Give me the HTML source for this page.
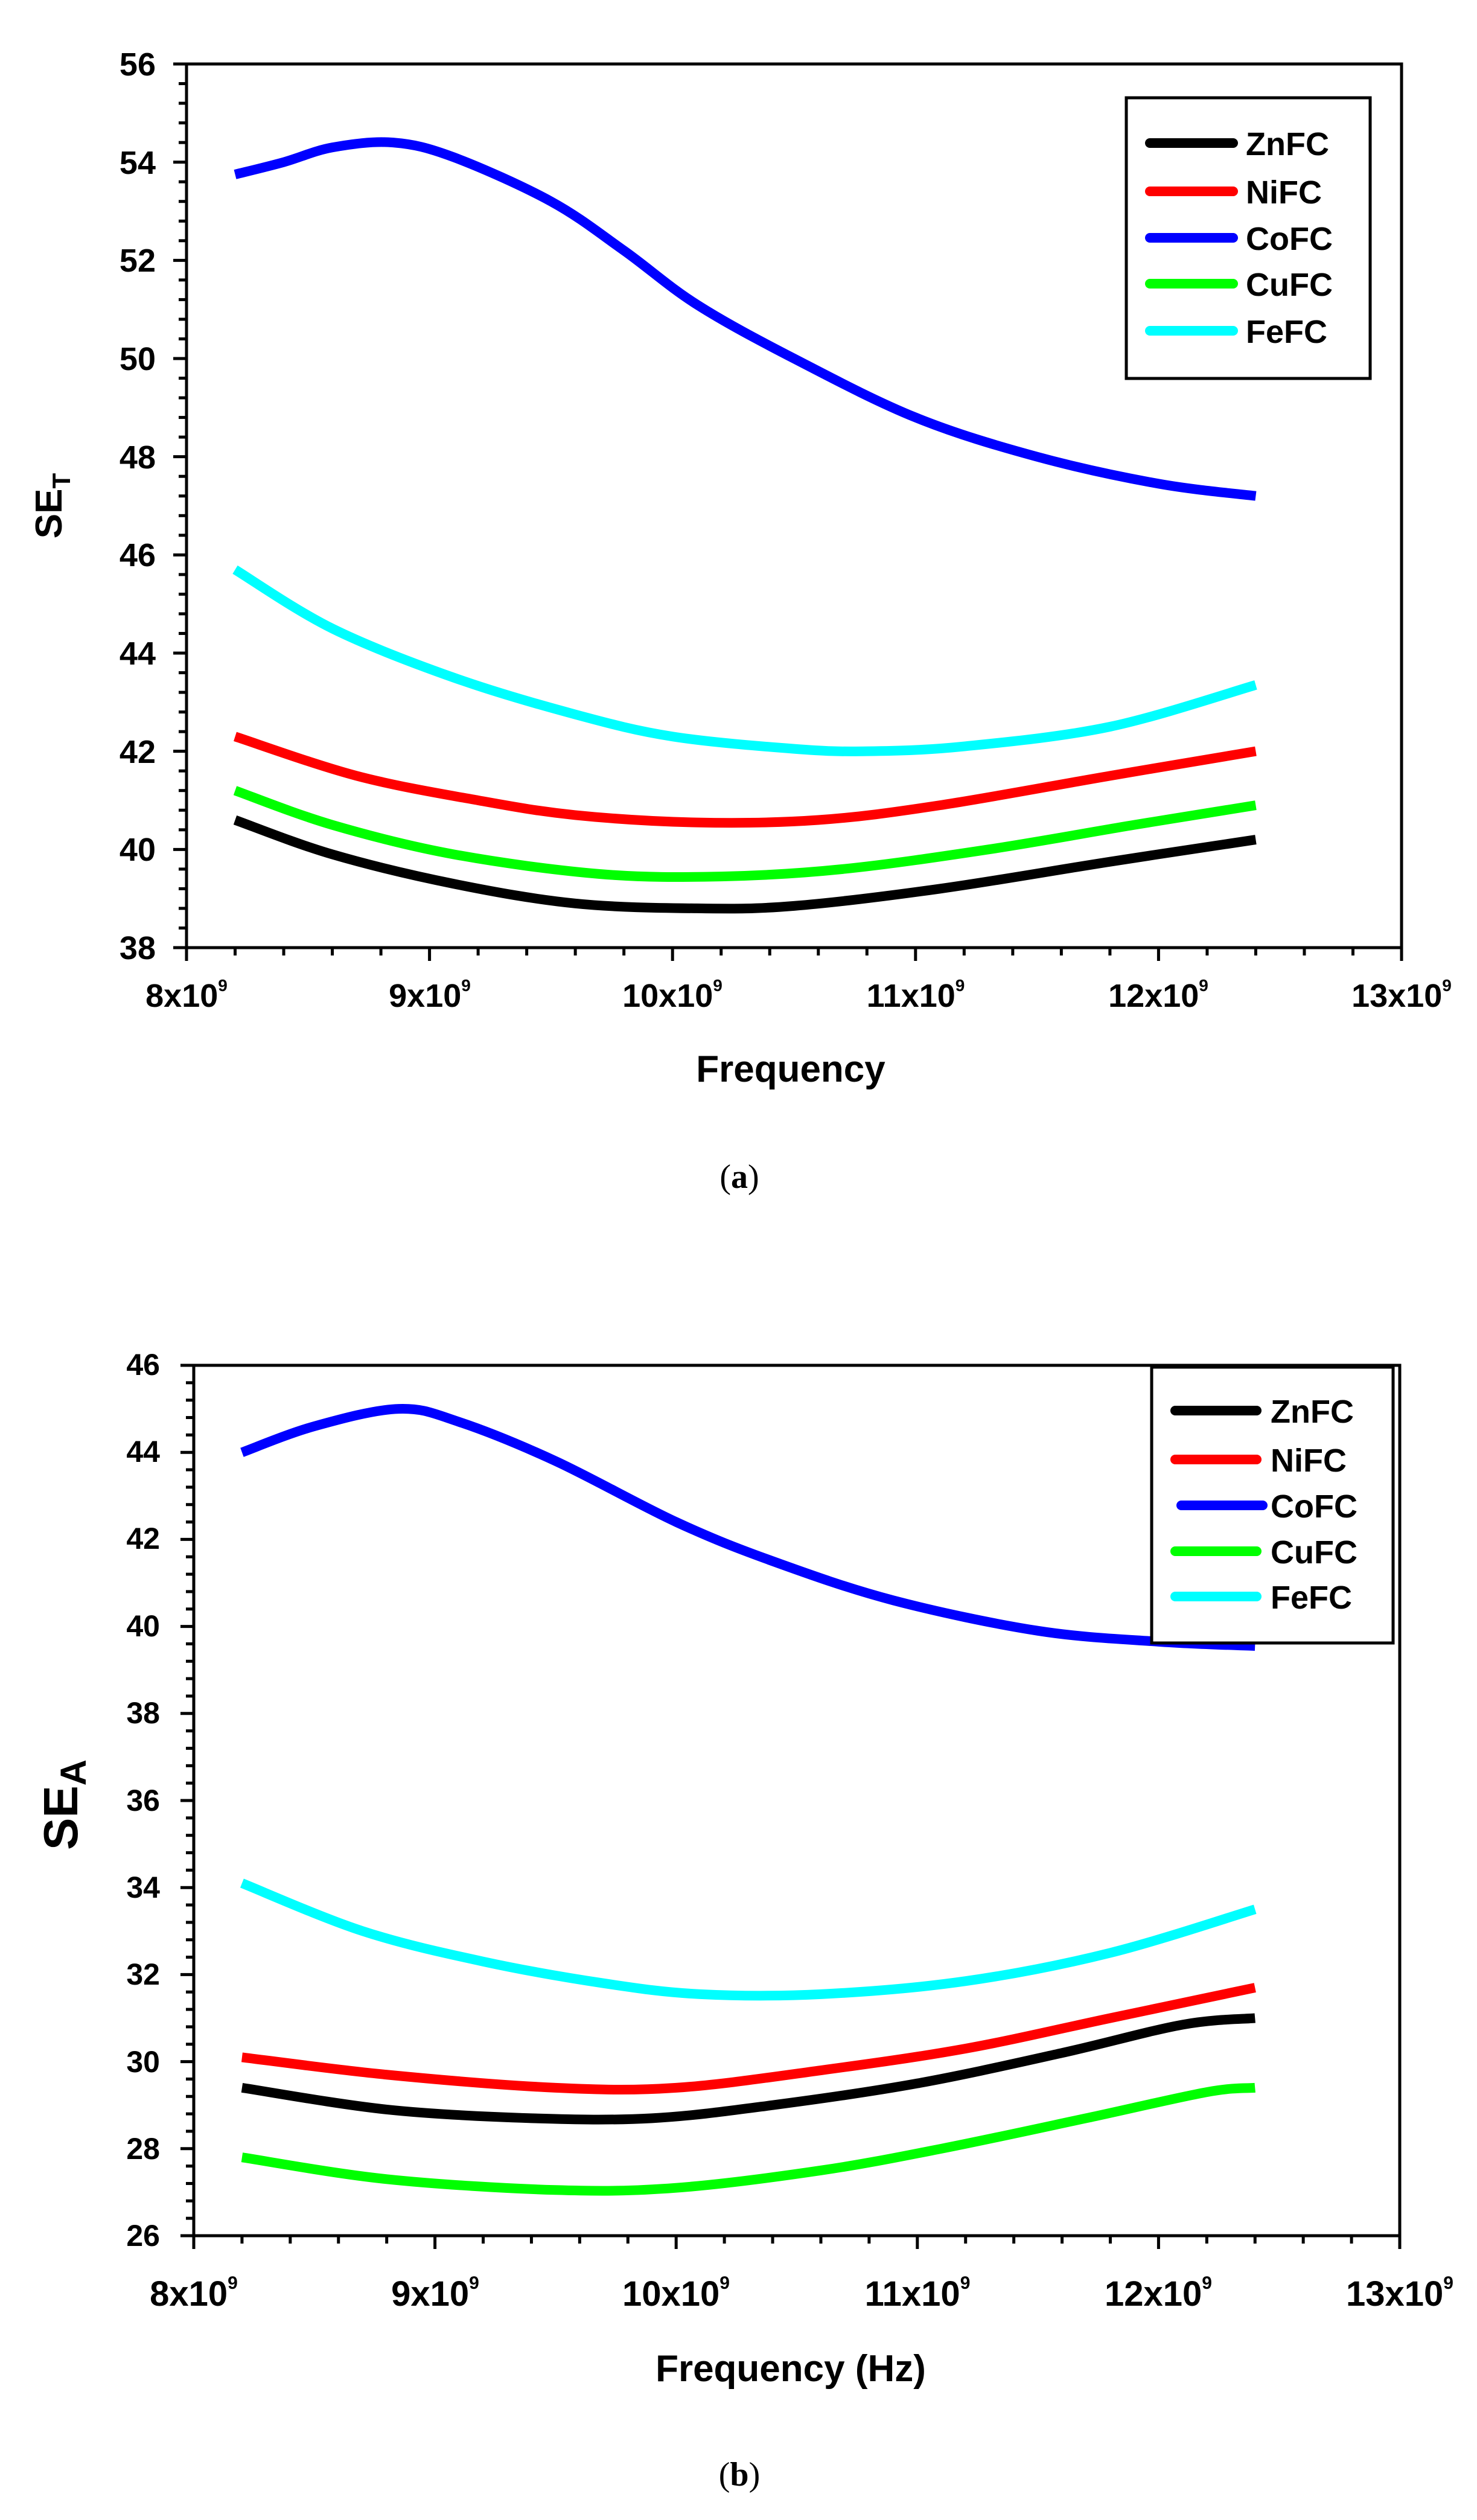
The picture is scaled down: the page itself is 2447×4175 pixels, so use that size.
<!DOCTYPE html>
<html><head><meta charset="utf-8"><style>
html,body{margin:0;padding:0;background:#fff}
svg{display:block}
text{font-family:"Liberation Sans",Arial,sans-serif;font-weight:bold;fill:#000}
</style></head><body>
<svg id="s" width="2447" height="4175" viewBox="0 0 2447 4175" xmlns="http://www.w3.org/2000/svg">
<rect width="2447" height="4175" fill="#fff"/>
<g id="g1"></g>
<!-- top axis labels -->
<g font-size="54" text-anchor="end">
<text x="258" y="125">56</text><text x="258" y="288">54</text><text x="258" y="450">52</text>
<text x="258" y="613">50</text><text x="258" y="776">48</text><text x="258" y="938">46</text>
<text x="258" y="1101">44</text><text x="258" y="1264">42</text><text x="258" y="1426">40</text>
<text x="258" y="1589">38</text>
</g>
<g font-size="54" text-anchor="middle">
<text x="309" y="1668">8x10<tspan font-size="28" dy="-26">9</tspan></text>
<text x="712" y="1668">9x10<tspan font-size="28" dy="-26">9</tspan></text>
<text x="1114" y="1668">10x10<tspan font-size="28" dy="-26">9</tspan></text>
<text x="1517" y="1668">11x10<tspan font-size="28" dy="-26">9</tspan></text>
<text x="1919" y="1668">12x10<tspan font-size="28" dy="-26">9</tspan></text>
<text x="2322" y="1668">13x10<tspan font-size="28" dy="-26">9</tspan></text>
</g>
<text x="1310" y="1792" font-size="62" text-anchor="middle">Frequency</text>
<text transform="translate(102,838) rotate(-90)" font-size="62" text-anchor="middle">SE<tspan font-size="42" dy="14">T</tspan></text>
<text x="1225" y="1968" font-size="56" text-anchor="middle" style="font-family:'Liberation Serif',serif;font-weight:normal">(<tspan font-weight="bold">a</tspan>)</text>
<!-- top legend -->
<rect x="1866" y="162" width="404" height="465" fill="#fff" stroke="#000" stroke-width="5"/>
<g stroke-width="16" stroke-linecap="round">
<line x1="1905" y1="237" x2="2043" y2="237" stroke="#000"/>
<line x1="1905" y1="317" x2="2043" y2="317" stroke="#f00"/>
<line x1="1905" y1="394" x2="2043" y2="394" stroke="#00f"/>
<line x1="1905" y1="470" x2="2043" y2="470" stroke="#0f0"/>
<line x1="1905" y1="548" x2="2043" y2="548" stroke="#0ff"/>
</g>
<g font-size="54"><text x="2064" y="257">ZnFC</text><text x="2064" y="337">NiFC</text><text x="2064" y="414">CoFC</text><text x="2064" y="490">CuFC</text><text x="2064" y="568">FeFC</text></g>

<!-- bottom labels -->
<g font-size="50" text-anchor="end">
<text x="265" y="2278">46</text><text x="265" y="2422">44</text><text x="265" y="2566">42</text>
<text x="265" y="2711">40</text><text x="265" y="2855">38</text><text x="265" y="3000">36</text>
<text x="265" y="3144">34</text><text x="265" y="3288">32</text><text x="265" y="3433">30</text>
<text x="265" y="3577">28</text><text x="265" y="3721">26</text>
</g>
<g font-size="58" text-anchor="middle">
<text x="321" y="3820">8x10<tspan font-size="30" dy="-28">9</tspan></text>
<text x="721" y="3820">9x10<tspan font-size="30" dy="-28">9</tspan></text>
<text x="1120" y="3820">10x10<tspan font-size="30" dy="-28">9</tspan></text>
<text x="1520" y="3820">11x10<tspan font-size="30" dy="-28">9</tspan></text>
<text x="1919" y="3820">12x10<tspan font-size="30" dy="-28">9</tspan></text>
<text x="2319" y="3820">13x10<tspan font-size="30" dy="-28">9</tspan></text>
</g>
<text x="1310" y="3945" font-size="62" text-anchor="middle">Frequency (Hz)</text>
<text transform="translate(128,2990) rotate(-90)" font-size="80" text-anchor="middle">SE<tspan font-size="60" dy="14">A</tspan></text>
<text x="1225" y="4118" font-size="56" text-anchor="middle" style="font-family:'Liberation Serif',serif;font-weight:normal">(<tspan font-weight="bold">b</tspan>)</text>
<g id="g2"></g>
<rect x="1908" y="2265" width="400" height="457" fill="#fff" stroke="#000" stroke-width="5"/>
<g stroke-width="16" stroke-linecap="round">
<line x1="1947" y1="2337" x2="2082" y2="2337" stroke="#000"/>
<line x1="1947" y1="2418" x2="2082" y2="2418" stroke="#f00"/>
<line x1="1957" y1="2494" x2="2092" y2="2494" stroke="#00f"/>
<line x1="1947" y1="2570" x2="2082" y2="2570" stroke="#0f0"/>
<line x1="1947" y1="2645" x2="2082" y2="2645" stroke="#0ff"/>
</g>
<g font-size="54"><text x="2105" y="2357">ZnFC</text><text x="2105" y="2438">NiFC</text><text x="2105" y="2514">CoFC</text><text x="2105" y="2590">CuFC</text><text x="2105" y="2665">FeFC</text></g>
</svg>
<script>
var NS="http://www.w3.org/2000/svg";
function el(p,n,a){var e=document.createElementNS(NS,n);for(var k in a)e.setAttribute(k,a[k]);p.appendChild(e);return e;}
function cr(pts){var d="M"+pts[0][0]+","+pts[0][1];for(var i=0;i<pts.length-1;i++){var p0=pts[i-1]||pts[i],p1=pts[i],p2=pts[i+1],p3=pts[i+2]||p2;
d+=" C"+(p1[0]+(p2[0]-p0[0])/6)+","+(p1[1]+(p2[1]-p0[1])/6)+" "+(p2[0]-(p3[0]-p1[0])/6)+","+(p2[1]-(p3[1]-p1[1])/6)+" "+p2[0]+","+p2[1];}return d;}
function chart(g,L,T,R,B,ymin,ymax,series){
 var sx=(R-L)/5,sy=(B-T)/(ymax-ymin);
 series.forEach(function(s){var pts=s.d.map(function(p){return [L+(p[0]-8)*sx,T+(ymax-p[1])*sy];});
  el(g,"path",{d:cr(pts),fill:"none",stroke:s.c,"stroke-width":16,"stroke-linejoin":"round"});});
 el(g,"rect",{x:L,y:T,width:R-L,height:B-T,fill:"none",stroke:"#000","stroke-width":5});
 var n=(ymax-ymin)/0.4;
 for(var i=0;i<=n;i++){var y=T+i*(B-T)/n;var big=i%5==0;el(g,"line",{x1:L-(big?22:13),y1:y,x2:L,y2:y,stroke:"#000","stroke-width":5});}
 for(var i=0;i<=25;i++){var x=L+i*(R-L)/25;var big=i%5==0;el(g,"line",{x1:x,y1:B,x2:x,y2:B+(big?22:13),stroke:"#000","stroke-width":5});}
}
chart(document.getElementById("g1"),309,106,2322,1570,38,56,[
{c:"#00f",d:[[8.2,53.75],[8.4,54.0],[8.6,54.3],[8.85,54.4],[9.1,54.1],[9.5,53.2],[9.8,52.2],[10.1,51.1],[10.5,50.0],[11.0,48.8],[11.5,48.0],[12.0,47.45],[12.4,47.2]]},
{c:"#0ff",d:[[8.2,45.7],[8.6,44.5],[9.1,43.5],[9.6,42.75],[10.0,42.3],[10.5,42.05],[10.8,42.0],[11.2,42.1],[11.8,42.5],[12.4,43.35]]},
{c:"#f00",d:[[8.2,42.3],[8.7,41.5],[9.2,41.0],[9.6,40.7],[10.1,40.55],[10.6,40.6],[11.1,40.9],[11.8,41.5],[12.4,42.0]]},
{c:"#0f0",d:[[8.2,41.2],[8.6,40.5],[9.1,39.9],[9.7,39.5],[10.2,39.45],[10.7,39.6],[11.3,40.0],[11.9,40.5],[12.4,40.9]]},
{c:"#000",d:[[8.2,40.6],[8.6,39.9],[9.1,39.3],[9.6,38.9],[10.1,38.8],[10.5,38.85],[11.1,39.2],[11.8,39.75],[12.4,40.2]]}
]);
chart(document.getElementById("g2"),321,2262,2319,3704,26,46,[
{c:"#00f",d:[[8.2,44.0],[8.5,44.6],[8.85,45.0],[9.1,44.7],[9.5,43.8],[10.0,42.4],[10.4,41.5],[10.9,40.6],[11.5,39.9],[12.0,39.65],[12.4,39.55]]},
{c:"#0ff",d:[[8.2,34.1],[8.7,33.0],[9.2,32.3],[9.7,31.8],[10.1,31.55],[10.6,31.55],[11.2,31.85],[11.8,32.5],[12.4,33.5]]},
{c:"#f00",d:[[8.2,30.1],[8.8,29.7],[9.5,29.4],[10.0,29.4],[10.6,29.8],[11.2,30.3],[11.8,31.0],[12.4,31.7]]},
{c:"#000",d:[[8.2,29.4],[8.8,28.9],[9.4,28.7],[9.9,28.7],[10.4,29.0],[11.0,29.5],[11.6,30.2],[12.1,30.85],[12.4,31.0]]},
{c:"#0f0",d:[[8.2,27.8],[8.8,27.3],[9.5,27.05],[10.0,27.1],[10.6,27.5],[11.1,28.0],[11.7,28.7],[12.2,29.3],[12.4,29.4]]}
]);
</script>
</body></html>
